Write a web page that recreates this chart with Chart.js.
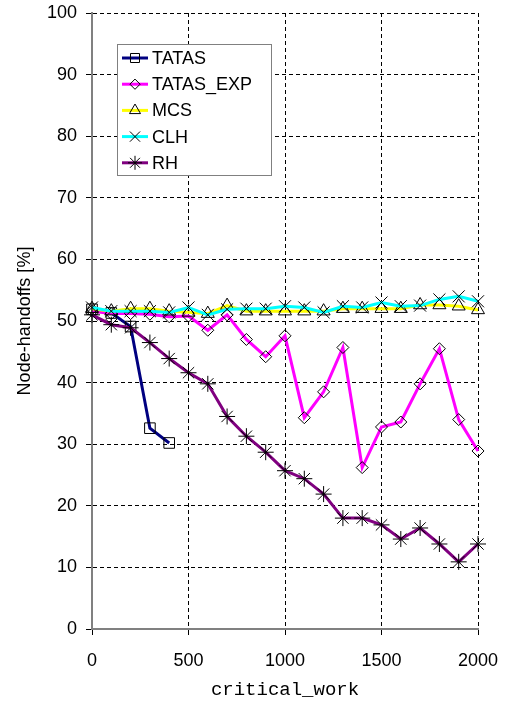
<!DOCTYPE html>
<html>
<head>
<meta charset="utf-8">
<script src="https://cdn.jsdelivr.net/npm/chart.js@4/dist/chart.umd.min.js"></script>
<style>
  html, body { margin: 0; padding: 0; background: #fff; }
  #wrap { width: 507px; height: 702px; }
</style>
</head>
<body>
<div id="wrap"><canvas id="handoffChart" width="507" height="702"></canvas></div>
<script>
// ===== Data =====
const workValues = [0, 100, 200, 300, 400, 500, 600, 700, 800, 900, 1000,
  1100, 1200, 1300, 1400, 1500, 1600, 1700, 1800, 1900, 2000];
const yTicks = [0, 10, 20, 30, 40, 50, 60, 70, 80, 90, 100];
const xTicks = [0, 500, 1000, 1500, 2000];

const tatas = [51.9, 51.3, 49.1, 32.6, 30.2];
const tatasExp = [51.6, 51.2, 51.2, 51.1, 50.7, 50.8, 48.5, 51.0, 47.0, 44.2, 47.6,
  34.3, 38.5, 45.7, 26.2, 32.8, 33.6, 39.8, 45.5, 34.0, 28.9];
const mcs = [52.0, 51.6, 52.0, 52.0, 51.6, 51.4, 51.2, 52.5, 51.6, 51.6, 51.6,
  51.6, 51.6, 52.0, 52.0, 52.0, 52.0, 52.6, 52.6, 52.4, 51.8];
const clh = [52.2, 51.6, 51.6, 51.6, 51.4, 52.2, 51.0, 51.9, 52.0, 52.0, 52.4,
  52.2, 51.4, 52.4, 52.2, 53.0, 52.4, 52.5, 53.5, 54.0, 53.2];
const rh = [51.0, 49.4, 48.9, 46.5, 43.9, 41.6, 39.8, 34.5, 31.3, 28.7, 25.7,
  24.4, 21.9, 18.0, 18.0, 16.9, 14.6, 16.4, 13.8, 10.9, 13.8];

const seriesNames = ["TATAS", "TATAS_EXP", "MCS", "CLH", "RH"];
const seriesData = [tatas, tatasExp, mcs, clh, rh];
const seriesColors = ["#000080", "#ff00ff", "#ffff00", "#00ffff", "#800080"];
const seriesMarkers = ["rect", "rectRot", "triangle", "crossRot", "star"];
const markerRadius = [7.5, 6, 7.5, 8.5, 8];

const toPoints = (vals) => vals.map((v, i) => ({ x: workValues[i], y: v }));

const datasets = seriesData.map((vals, i) => ({
  label: seriesNames[i],
  data: toPoints(vals),
  borderColor: seriesColors[i],
  borderWidth: 3,
  tension: 0,
  pointStyle: seriesMarkers[i],
  pointRadius: markerRadius[i],
  pointBorderColor: "#000",
  pointBorderWidth: 1,
  pointBackgroundColor: "rgba(0,0,0,0)",
  clip: false,
  order: seriesNames.length - i,
}));

// ===== Legend drawn inside the plot (Excel-style box) =====
function drawMarker(ctx, style, x, y, r) {
  ctx.beginPath();
  if (style === "rect") {
    const s = Math.SQRT1_2 * r;
    ctx.rect(x - s, y - s, 2 * s, 2 * s);
  } else if (style === "rectRot") {
    ctx.moveTo(x - r, y); ctx.lineTo(x, y - r);
    ctx.lineTo(x + r, y); ctx.lineTo(x, y + r); ctx.closePath();
  } else if (style === "triangle") {
    const h = r * Math.sin(Math.PI / 3);
    ctx.moveTo(x, y - r);
    ctx.lineTo(x + h, y + r / 2);
    ctx.lineTo(x - h, y + r / 2);
    ctx.closePath();
  } else if (style === "crossRot" || style === "star") {
    const d = Math.SQRT1_2 * r;
    ctx.moveTo(x - d, y - d); ctx.lineTo(x + d, y + d);
    ctx.moveTo(x - d, y + d); ctx.lineTo(x + d, y - d);
    if (style === "star") {
      ctx.moveTo(x, y - r); ctx.lineTo(x, y + r);
      ctx.moveTo(x - r, y); ctx.lineTo(x + r, y);
    }
  }
  ctx.stroke();
}

const boxLegend = {
  id: "boxLegend",
  afterDraw(chart) {
    const ctx = chart.ctx;
    const bx = 117, by = 44, bw = 154, bh = 131;
    ctx.save();
    ctx.fillStyle = "#fff";
    ctx.fillRect(bx, by, bw, bh);
    ctx.strokeStyle = "#808080";
    ctx.lineWidth = 1;
    ctx.strokeRect(bx + 0.5, by + 0.5, bw, bh);

    chart.data.datasets.forEach((ds, i) => {
      const cy = 58 + i * 26.2;
      ctx.strokeStyle = ds.borderColor;
      ctx.lineWidth = 3;
      ctx.beginPath();
      ctx.moveTo(122, cy);
      ctx.lineTo(148, cy);
      ctx.stroke();
      ctx.strokeStyle = "#000";
      ctx.lineWidth = 1;
      drawMarker(ctx, ds.pointStyle, 135, cy, ds.pointStyle === "star" ? 7 : ds.pointRadius * 0.85);
      ctx.fillStyle = "#000";
      ctx.font = "18px 'Liberation Sans', Arial, sans-serif";
      ctx.textBaseline = "middle";
      ctx.textAlign = "left";
      ctx.fillText(ds.label, 152, cy + 1);
    });
    ctx.restore();
  },
};

const tickFont = { family: "'Liberation Sans', Arial, sans-serif", size: 18 };

new Chart(document.getElementById("handoffChart").getContext("2d"), {
  type: "line",
  data: { datasets },
  options: {
    responsive: false,
    animation: false,
    layout: { padding: { left: 0, right: 29, top: 13, bottom: 0 } },
    plugins: { legend: { display: false }, tooltip: { enabled: false } },
    scales: {
      x: {
        type: "linear",
        min: 0,
        max: 2000,
        afterBuildTicks: (s) => { s.ticks = xTicks.map((v) => ({ value: v })); },
        afterFit: (s) => { s.height = 73; s.paddingLeft = 0; s.paddingRight = 0; },
        ticks: { color: "#000", font: tickFont, padding: 15, maxRotation: 0, callback: (v) => String(v) },
        grid: { color: "#000", lineWidth: 1, tickLength: 6, tickColor: "#000", tickBorderDash: [] },
        border: { color: "#808080", width: 2, dash: [4, 3] },
        title: {
          display: true,
          text: "critical_work",
          color: "#000",
          font: { family: "'Liberation Mono', 'Courier New', monospace", size: 19 },
          padding: { top: 0, bottom: 1 },
        },
      },
      y: {
        min: 0,
        max: 100,
        afterBuildTicks: (s) => { s.ticks = yTicks.map((v) => ({ value: v })); },
        afterFit: (s) => { s.width = 92; s.paddingTop = 0; s.paddingBottom = 0; },
        ticks: { color: "#000", font: tickFont, padding: 9, callback: (v) => String(v) },
        grid: { color: "#000", lineWidth: 1, tickLength: 6, tickColor: "#000", tickBorderDash: [] },
        border: { color: "#808080", width: 2, dash: [4, 3] },
        title: {
          display: true,
          text: "Node-handoffs [%]",
          color: "#000",
          font: { family: "'Liberation Sans', Arial, sans-serif", size: 18 },
          padding: { top: 14, bottom: 0 },
        },
      },
    },
  },
  plugins: [boxLegend],
});
</script>
</body>
</html>
